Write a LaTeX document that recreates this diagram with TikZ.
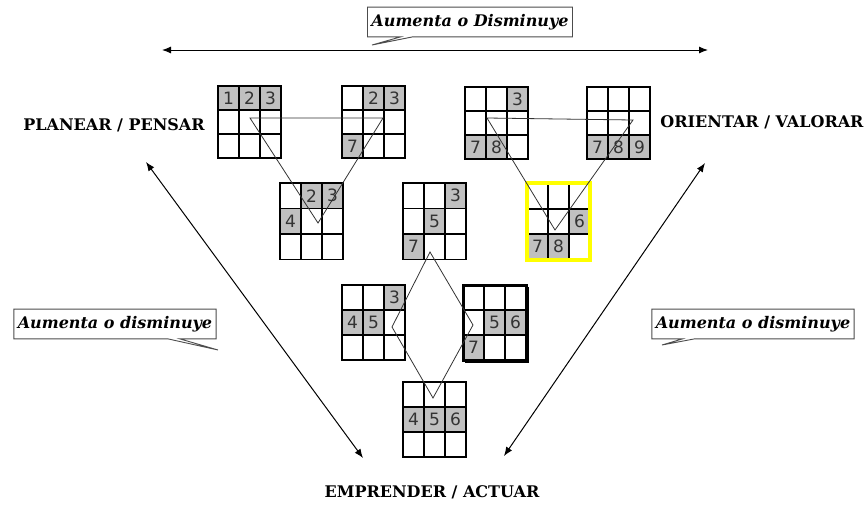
\documentclass[tikz,border=0pt]{standalone}
\usepackage{fontspec}
\usetikzlibrary{arrows.meta,shapes.callouts}
\newfontfamily\etiqueta{DejaVu Serif}
\newfontfamily\cifras{DejaVu Sans}
\definecolor{gris}{RGB}{192,192,192}
\definecolor{amarillo}{RGB}{255,255,0}

\tikzset{
  celda/.style={fill=gris},
  cifra/.style={font=\cifras\fontsize{17}{17}\selectfont, text=black!80, inner sep=0pt},
  rejilla/.style={line width=1.8pt, line cap=rect},
  trazo/.style={line width=0.8pt, black!80},
  flecha/.style={{Latex[length=9pt,width=7pt]}-{Latex[length=9pt,width=7pt]}, line width=1pt},
  globo/.style={rectangle callout, draw=black!70, line width=0.9pt, fill=white,
    font=\etiqueta\bfseries\itshape\fontsize{16}{16}\selectfont,
    inner xsep=4pt, inner ysep=7pt, callout pointer width=12pt},
  rotulo/.style={font=\etiqueta\bfseries\fontsize{16}{16}\selectfont}
}

% #1 nombre, #2 izquierda, #3 arriba, #4 alto de celda, #5 celdas c/r/n
\newcommand{\tablero}[5]{
  \begin{scope}[shift={(#2,#3)}]
    \foreach \c/\r/\n in {#5} {
      \fill[celda] (\c*21,\r*#4) rectangle ++(21,#4);
      \node[cifra] (#1-\n) at (\c*21+10.5,\r*#4+#4/2) {\n};
    }
    \foreach \i in {0,...,3} {
      \draw[rejilla] (\i*21,0) -- (\i*21,3*#4);
      \draw[rejilla] (0,\i*#4) -- (63,\i*#4);
    }
  \end{scope}
}

\begin{document}
\begin{tikzpicture}[x=1pt,y=-1pt]
\useasboundingbox (0,0) rectangle (868,504);

\tablero{a}{218}{86}{24}{0/0/1,1/0/2,2/0/3}
\tablero{b}{342}{86}{24}{1/0/2,2/0/3,0/2/7}
\tablero{c}{465}{87}{24}{2/0/3,0/2/7,1/2/8}
\tablero{d}{587}{87}{24}{0/2/7,1/2/8,2/2/9}

\tablero{e}{280}{183}{25.5}{1/0/2,2/0/3,0/1/4}
\tablero{f}{403}{183}{25.5}{2/0/3,1/1/5,0/2/7}
\tablero{g}{527}{184}{25}{2/1/6,0/2/7,1/2/8}
\draw[amarillo, line width=4pt] (527,183) rectangle (590,260);

\tablero{h}{342}{285}{25}{2/0/3,0/1/4,1/1/5}
\tablero{i}{463}{285}{25}{1/1/5,2/1/6,0/2/7}
\draw[line width=3pt] (463,285) rectangle (526,360);
\draw[line width=2pt] (528,287) -- (528,362) -- (465,362);

\tablero{j}{403}{382}{25}{0/1/4,1/1/5,2/1/6}

\coordinate (a1) at (250,118);
\coordinate (b1) at (383,118);
\coordinate (e1) at (318,223);
\coordinate (c1) at (487,118);
\coordinate (d1) at (633,120);
\coordinate (g1) at (555,230);
\coordinate (f1) at (430,252);
\coordinate (h1) at (392,327);
\coordinate (j1) at (433,398);
\coordinate (i1) at (473,325);

\draw[trazo] (a1) -- (b1) -- (e1) -- cycle;
\draw[trazo] (c1) -- (d1) -- (g1) -- cycle;
\draw[trazo] (f1) -- (h1) -- (j1) -- (i1) -- cycle;

\coordinate (izq) at (162,50);
\coordinate (der) at (708,50);
\coordinate (p1) at (146,162);
\coordinate (q1) at (363,458);
\coordinate (p2) at (705,163);
\coordinate (q2) at (504,456);

\draw[flecha] (izq) -- (der);
\draw[flecha] (p1) -- (q1);
\draw[flecha] (p2) -- (q2);

\node[rotulo] (planear) at (114,125) {PLANEAR / PENSAR};
\node[rotulo] (orientar) at (762,122) {ORIENTAR / VALORAR};
\node[rotulo] (emprender) at (432,492) {EMPRENDER / ACTUAR};

\node[globo, callout absolute pointer={(372,45)}] (arriba) at (470,22) {Aumenta o Disminuye};
\node[globo, callout absolute pointer={(218,350)}] (izquierda) at (115,324) {Aumenta o disminuye};
\node[globo, callout absolute pointer={(662,345)}] (derecha) at (753,324) {Aumenta o disminuye};
\end{tikzpicture}
\end{document}
